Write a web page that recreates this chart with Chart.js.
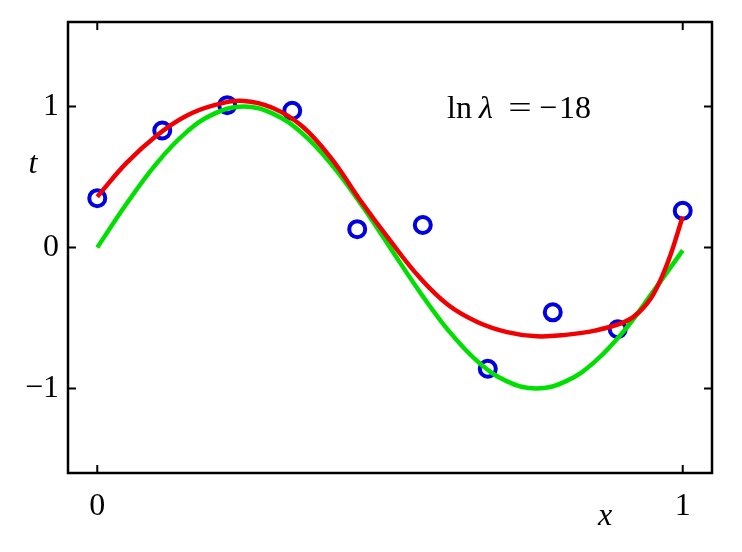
<!DOCTYPE html>
<html>
<head>
<meta charset="utf-8">
<script src="https://cdn.jsdelivr.net/npm/chart.js@4.4.1/dist/chart.umd.min.js"></script>
<style>
  html, body { margin: 0; background: #fff; }
  #wrap { width: 742px; height: 552px; }
</style>
</head>
<body>
<div id="wrap"><canvas id="fitChart"></canvas></div>
<script>
// observed data points (blue circles)
const obsX = [0, 0.111, 0.222, 0.333, 0.444, 0.556, 0.667, 0.778, 0.889, 1];
const obsT = [0.35, 0.83, 1.01, 0.97, 0.13, 0.16, -0.86, -0.46, -0.58, 0.26];

// true curve (green)
const sineX = [0, 0.05, 0.1, 0.15, 0.2, 0.25, 0.3, 0.35, 0.4, 0.45, 0.5, 0.55, 0.6, 0.65, 0.7, 0.75, 0.8, 0.85, 0.9, 0.95, 1];
const sineT = [0, 0.31, 0.59, 0.81, 0.95, 1.0, 0.95, 0.81, 0.59, 0.31, 0, -0.31, -0.59, -0.81, -0.95, -1.0, -0.95, -0.81, -0.59, -0.31, -0.02];

// fitted curve (red)
const fitX = [0, 0.05, 0.1, 0.15, 0.2, 0.25, 0.3, 0.35, 0.4, 0.45, 0.5, 0.55, 0.6, 0.65, 0.7, 0.75, 0.8, 0.85, 0.9, 0.925, 0.95, 0.975, 1];
const fitT = [0.36, 0.6, 0.79, 0.93, 1.01, 1.04, 0.99, 0.86, 0.63, 0.33, 0.05, -0.21, -0.41, -0.53, -0.6, -0.63, -0.62, -0.59, -0.53, -0.46, -0.33, -0.1, 0.22];

const xTicks = [0, 1];
const yTicks = [-1, 0, 1];

const SERIF = "'Liberation Serif', 'DejaVu Serif', serif";

function toPoints(xs, ys) {
  return xs.map((x, i) => ({ x: x, y: ys[i] }));
}

function fmt(v) {
  return v < 0 ? '\u2212' + Math.abs(v) : String(v);
}

// box round the plot, inward ticks, axis letters and the lambda note
const framePlugin = {
  id: 'frame',
  afterDatasetsDraw(chart) {
    const { ctx, chartArea: a, scales } = chart;
    ctx.save();
    ctx.strokeStyle = '#000';
    ctx.lineWidth = 2.5;
    ctx.strokeRect(a.left, a.top, a.right - a.left, a.bottom - a.top);
    ctx.lineWidth = 2;
    const len = 8;
    ctx.beginPath();
    xTicks.forEach(v => {
      const px = scales.x.getPixelForValue(v);
      ctx.moveTo(px, a.bottom); ctx.lineTo(px, a.bottom - len);
      ctx.moveTo(px, a.top); ctx.lineTo(px, a.top + len);
    });
    yTicks.forEach(v => {
      const py = scales.y.getPixelForValue(v);
      ctx.moveTo(a.left, py); ctx.lineTo(a.left + len, py);
      ctx.moveTo(a.right, py); ctx.lineTo(a.right - len, py);
    });
    ctx.stroke();

    ctx.fillStyle = '#000';
    ctx.textBaseline = 'alphabetic';
    ctx.textAlign = 'center';
    ctx.font = 'italic 32px ' + SERIF;
    ctx.fillText('t', 33, 173);
    ctx.fillText('x', 605, 525);

    // ln λ = −18
    const base = 118;
    ctx.font = '32px ' + SERIF;
    ctx.textAlign = 'left';
    ctx.fillText('ln', 447, base);
    ctx.textAlign = 'center';
    ctx.save();
    ctx.translate(520, base);
    ctx.scale(1.3, 1);
    ctx.fillText('=', 0, 0);
    ctx.restore();
    ctx.fillText('\u2212', 548, base);
    ctx.textAlign = 'right';
    ctx.fillText('18', 591, base);
    ctx.font = 'italic 32px ' + SERIF;
    ctx.textAlign = 'left';
    ctx.fillText('\u03bb', 479, base);
    ctx.restore();
  }
};

new Chart(document.getElementById('fitChart'), {
  type: 'scatter',
  data: {
    datasets: [
      {
        label: 'fit',
        data: toPoints(fitX, fitT),
        showLine: true,
        borderColor: '#f00000',
        borderWidth: 4.5,
        pointRadius: 0,
        tension: 0.4,
        order: 0
      },
      {
        label: 'sin',
        data: toPoints(sineX, sineT),
        showLine: true,
        borderColor: '#00e000',
        borderWidth: 4.5,
        pointRadius: 0,
        tension: 0.4,
        order: 1
      },
      {
        label: 'data',
        data: toPoints(obsX, obsT),
        showLine: false,
        pointRadius: 8,
        pointBorderWidth: 4,
        pointBorderColor: '#0000e0',
        pointBackgroundColor: 'rgba(0,0,0,0)',
        order: 2
      }
    ]
  },
  options: {
    responsive: true,
    maintainAspectRatio: false,
    animation: false,
    layout: { padding: { top: 22, right: 30, left: 0, bottom: 0 } },
    plugins: {
      legend: { display: false },
      tooltip: { enabled: false }
    },
    scales: {
      x: {
        type: 'linear',
        min: -0.05,
        max: 1.05,
        grid: { display: false, drawTicks: false, tickLength: 0 },
        border: { display: false },
        afterBuildTicks: s => { s.ticks = xTicks.map(v => ({ value: v })); },
        afterFit: s => { s.height = 79; s.paddingLeft = 0; s.paddingRight = 0; },
        ticks: {
          color: '#000',
          padding: 14,
          maxRotation: 0,
          font: { family: SERIF, size: 32 },
          callback: v => fmt(v)
        }
      },
      y: {
        type: 'linear',
        min: -1.6,
        max: 1.6,
        grid: { display: false, drawTicks: false, tickLength: 0 },
        border: { display: false },
        afterBuildTicks: s => { s.ticks = yTicks.map(v => ({ value: v })); },
        afterFit: s => { s.width = 68; s.paddingTop = 0; s.paddingBottom = 0; },
        ticks: {
          color: '#000',
          padding: 9,
          font: { family: SERIF, size: 32 },
          callback: v => fmt(v)
        }
      }
    }
  },
  plugins: [framePlugin]
});
</script>
</body>
</html>
